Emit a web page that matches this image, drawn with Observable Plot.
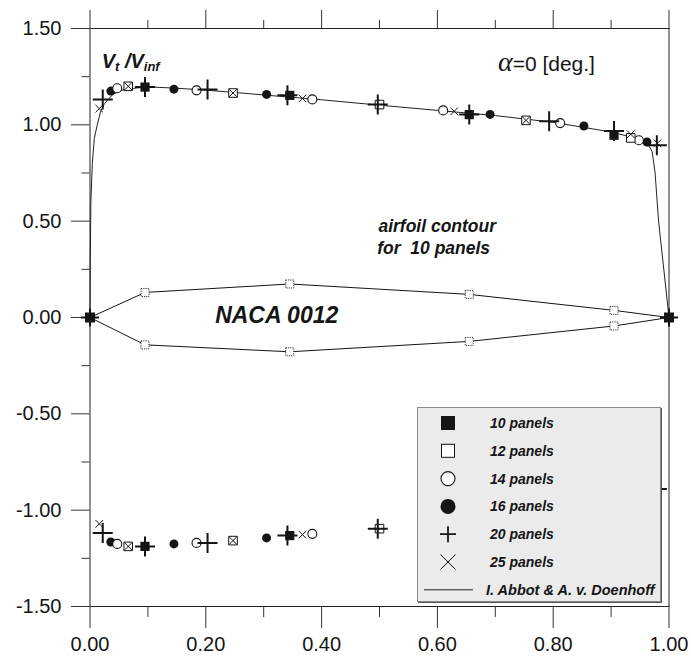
<!DOCTYPE html>
<html><head><meta charset="utf-8">
<script src="https://cdn.jsdelivr.net/npm/d3@7"></script>
<script src="https://cdn.jsdelivr.net/npm/@observablehq/plot@0.6"></script>
<style>
body{margin:0;background:#fff;}
#wrap{position:relative;width:691px;height:657px;}
#legend{position:absolute;left:417px;top:407px;width:244px;height:195px;background:#ebebeb;border:1px solid #8a8a8a;box-sizing:border-box;box-shadow:1px 1px 0 #555;}
</style></head><body><div id="wrap"></div>
<script>
// ---------- data ----------
const seriesNames = ["10 panels","12 panels","14 panels","16 panels","20 panels","25 panels"];
const abbotLabel = "I. Abbot & A. v. Doenhoff";

// 10 panels (filled square)
const p10x  = [0.095, 0.345, 0.655, 0.905];
const p10up = [1.196, 1.153, 1.053, 0.946];
const p10lo = [-1.188, -1.132, -1.05, -0.945];
// 12 panels (open square)
const p12x  = [0.066, 0.247, 0.500, 0.753, 0.934];
const p12up = [1.200, 1.165, 1.105, 1.023, 0.932];
const p12lo = [-1.188, -1.158, -1.096, -1.02, -0.93];
// 14 panels (open circle)
const p14x  = [0.047, 0.184, 0.384, 0.610, 0.812, 0.948];
const p14up = [1.190, 1.179, 1.132, 1.075, 1.009, 0.920];
const p14lo = [-1.175, -1.170, -1.123, -1.075, -1.01, -0.92];
// 16 panels (filled circle)
const p16x  = [0.036, 0.145, 0.305, 0.500, 0.691, 0.853, 0.962];
const p16up = [1.175, 1.185, 1.158, 1.105, 1.054, 0.994, 0.911];
const p16lo = [-1.165, -1.175, -1.144, -1.096, -1.05, -0.99, -0.91];
// 20 panels (plus)
const p20x  = [0.022, 0.095, 0.203, 0.341, 0.497, 0.655, 0.793, 0.905, 0.979];
const p20up = [1.132, 1.196, 1.184, 1.153, 1.105, 1.053, 1.018, 0.968, 0.894];
const p20lo = [-1.118, -1.188, -1.170, -1.132, -1.096, -1.05, -1.02, -0.965, -0.89];
// 25 panels (times)
const p25x  = [0.016, 0.066, 0.247, 0.367, 0.629, 0.753, 0.934, 0.980];
const p25up = [1.084, 1.200, 1.165, 1.137, 1.070, 1.023, 0.951, 0.904];
const p25lo = [-1.071, -1.188, -1.158, -1.127, -1.07, -1.02, -0.95, -0.90];

// stagnation points (leading / trailing edge)
const stagX = [0.0, 1.0];
const stagY = [0.0, 0.0];

// Abbott & von Doenhoff reference curve (upper surface)
const abbX = [0, 0.0005, 0.0015, 0.004, 0.0075, 0.0125, 0.018, 0.025, 0.04, 0.06, 0.1, 0.15, 0.2, 0.25, 0.3, 0.4, 0.5, 0.6, 0.7, 0.8, 0.9, 0.95, 0.962, 0.971, 0.976, 0.982, 0.991, 1.0];
const abbY = [0, 0.3, 0.6, 0.8, 0.93, 1.0, 1.066, 1.11, 1.16, 1.185, 1.197, 1.19, 1.18, 1.168, 1.155, 1.13, 1.102, 1.075, 1.048, 1.013, 0.963, 0.925, 0.91, 0.86, 0.75, 0.5, 0.25, 0];

// airfoil contour for 10 panels
const contX  = [0, 0.095, 0.345, 0.655, 0.905, 1.0];
const contUp = [0, 0.130, 0.174, 0.120, 0.037, 0];
const contLo = [0, -0.142, -0.178, -0.124, -0.044, 0];

// axis ticks
const xMajor = [0, 0.2, 0.4, 0.6, 0.8, 1.0];
const xMinor = [0.1, 0.3, 0.5, 0.7, 0.9];
const yMajor = [-1.5, -1.0, -0.5, 0, 0.5, 1.0, 1.5];
const yMinor = [-1.25, -0.75, -0.25, 0.25, 0.75, 1.25];

// ---------- symbols (r = half size) ----------
const half = s => Math.sqrt(s / Math.PI);
const symSquare = {draw(c, s){ const h = half(s); c.rect(-h, -h, 2*h, 2*h); }};
const symPlus = {draw(c, s){ const h = half(s); c.moveTo(-h,0); c.lineTo(h,0); c.moveTo(0,-h); c.lineTo(0,h); }};
const symTimes = {draw(c, s){ const h = half(s); c.moveTo(-h,-h); c.lineTo(h,h); c.moveTo(-h,h); c.lineTo(h,-h); }};

const pts = (xs, ys) => xs.map((x, i) => ({x, y: ys[i]}));
const both = (xs, up, lo) => pts(xs, up).concat(pts(xs, lo));

const ink = "#151515";
const font = "Arial, 'Liberation Sans', Helvetica, sans-serif";

const plot = Plot.plot({
  width: 691, height: 657,
  marginTop: 28, marginBottom: 51, marginLeft: 89.5, marginRight: 22.5,
  x: {domain: [0, 1]},
  y: {domain: [-1.5, 1.5]},
  style: {fontFamily: font, color: ink, background: "#fff"},
  marks: [
    Plot.frame({stroke: "#222", strokeWidth: 1}),
    Plot.axisX({anchor: "top", ticks: xMajor, tickSize: 19, tickFormat: () => "", label: null, stroke: "#333"}),
    Plot.axisX({anchor: "top", ticks: xMinor, tickSize: 9, tickFormat: () => "", label: null, stroke: "#333"}),
    Plot.axisX({anchor: "bottom", ticks: xMajor, tickSize: 22, tickPadding: 8, tickFormat: d => d.toFixed(2), fontSize: 20, label: null, stroke: "#333"}),
    Plot.axisX({anchor: "bottom", ticks: xMinor, tickSize: 11, tickFormat: () => "", label: null, stroke: "#333"}),
    Plot.axisY({anchor: "left", ticks: yMajor, tickSize: 18.5, tickPadding: 10, tickFormat: d => d.toFixed(2), fontSize: 20, label: null, stroke: "#333"}),
    Plot.axisY({anchor: "left", ticks: yMinor, tickSize: 8, tickFormat: () => "", label: null, stroke: "#333"}),

    // airfoil contour
    Plot.line(pts(contX, contUp), {x: "x", y: "y", stroke: ink, strokeWidth: 1}),
    Plot.line(pts(contX, contLo), {x: "x", y: "y", stroke: ink, strokeWidth: 1}),
    Plot.dot(pts(contX.slice(1, -1), contUp.slice(1, -1)).concat(pts(contX.slice(1, -1), contLo.slice(1, -1))),
      {x: "x", y: "y", symbol: symSquare, r: 4, fill: "#fff", stroke: "#333", strokeWidth: 1, strokeDasharray: "1.2,1"}),

    // reference curve
    Plot.line(pts(abbX, abbY), {x: "x", y: "y", stroke: "#222", strokeWidth: 1, curve: "linear"}),

    // panel-method results
    Plot.dot(both(p16x, p16up, p16lo), {x: "x", y: "y", symbol: "circle", r: 4.5, fill: ink, stroke: "none"}),
    Plot.dot(both(p14x, p14up, p14lo), {x: "x", y: "y", symbol: "circle", r: 4.5, fill: "#fff", stroke: ink, strokeWidth: 1.1}),
    Plot.dot(both(p12x, p12up, p12lo), {x: "x", y: "y", symbol: symSquare, r: 4.3, fill: "#fff", stroke: ink, strokeWidth: 1}),
    Plot.dot(both(p10x, p10up, p10lo), {x: "x", y: "y", symbol: symSquare, r: 4.6, fill: ink, stroke: "none"}),
    Plot.dot(both(p25x, p25up, p25lo), {x: "x", y: "y", symbol: symTimes, r: 3.8, fill: "none", stroke: ink, strokeWidth: 1}),
    Plot.dot(both(p20x, p20up, p20lo), {x: "x", y: "y", symbol: symPlus, r: 10, fill: "none", stroke: ink, strokeWidth: 2}),

    // stagnation points
    Plot.dot(pts(stagX, stagY), {x: "x", y: "y", symbol: symSquare, r: 5, fill: ink, stroke: "none"}),
    Plot.dot(pts(stagX, stagY), {x: "x", y: "y", symbol: symPlus, r: 9, fill: "none", stroke: ink, strokeWidth: 2})
  ]
});

document.getElementById("wrap").appendChild(plot);

// ---------- annotations ----------
const sx = plot.scale("x"), sy = plot.scale("y");
const svg = d3.select(plot);
const ann = svg.append("g").attr("fill", ink).attr("text-anchor", "start");

const vt = ann.append("text").attr("x", sx.apply(0.021)).attr("y", sy.apply(1.292)).attr("text-anchor", "start")
  .attr("font-family", font).attr("font-weight", "bold").attr("font-style", "italic").attr("font-size", 20);
vt.append("tspan").text("V");
vt.append("tspan").attr("font-size", 13).attr("dy", 3).text("t");
vt.append("tspan").attr("dy", -3).text(" /V");
vt.append("tspan").attr("font-size", 13).attr("dy", 3).text("inf");

const al = ann.append("text").attr("x", sx.apply(0.873)).attr("y", sy.apply(1.277))
  .attr("text-anchor", "end").attr("font-family", font).attr("font-size", 21);
al.append("tspan").attr("font-family", "'Liberation Serif', 'DejaVu Serif', serif").attr("font-style", "italic").attr("font-size", 28).text("α");
al.append("tspan").text("=0 [deg.]");

ann.append("text").attr("x", sx.apply(0.499)).attr("y", sy.apply(0.441)).attr("text-anchor", "start")
  .attr("font-family", font).attr("font-weight", "bold").attr("font-style", "italic").attr("font-size", 17.5)
  .text("airfoil contour");
ann.append("text").attr("x", sx.apply(0.497)).attr("y", sy.apply(0.327)).attr("text-anchor", "start")
  .attr("font-family", font).attr("font-weight", "bold").attr("font-style", "italic").attr("font-size", 17.5)
  .attr("xml:space", "preserve").style("white-space", "pre")
  .text("for  10 panels");

ann.append("text").attr("x", sx.apply(0.217)).attr("y", sy.apply(-0.031)).attr("text-anchor", "start")
  .attr("font-family", font).attr("font-weight", "bold").attr("font-style", "italic").attr("font-size", 23)
  .text("NACA 0012");

// ---------- legend ----------
const leg = d3.select("#wrap").append("div").attr("id", "legend");
const ls = leg.append("svg").attr("width", 242).attr("height", 193).style("display", "block");
const rowY = i => 15 + i * 27.8;
const cx = 30;
const items = [
  {name: seriesNames[0], draw: g => g.append("rect").attr("x", cx-7).attr("y", -7).attr("width", 14).attr("height", 14).attr("fill", ink)},
  {name: seriesNames[1], draw: g => g.append("rect").attr("x", cx-6.5).attr("y", -6.5).attr("width", 13).attr("height", 13).attr("fill", "#fff").attr("stroke", ink).attr("stroke-width", 1)},
  {name: seriesNames[2], draw: g => g.append("circle").attr("cx", cx).attr("r", 7).attr("fill", "#fff").attr("stroke", ink).attr("stroke-width", 1.1)},
  {name: seriesNames[3], draw: g => g.append("circle").attr("cx", cx).attr("r", 7.5).attr("fill", ink)},
  {name: seriesNames[4], draw: g => g.append("path").attr("d", `M${cx-8},0H${cx+8}M${cx},-8V8`).attr("stroke", ink).attr("stroke-width", 1.8).attr("fill", "none")},
  {name: seriesNames[5], draw: g => g.append("path").attr("d", `M${cx-7.5},-7.5L${cx+7.5},7.5M${cx-7.5},7.5L${cx+7.5},-7.5`).attr("stroke", ink).attr("stroke-width", 1).attr("fill", "none")}
];
items.forEach((it, i) => {
  const g = ls.append("g").attr("transform", `translate(0,${rowY(i)})`);
  it.draw(g);
  g.append("text").attr("x", 72).attr("y", 5).attr("font-family", font).attr("font-weight", "bold")
    .attr("font-style", "italic").attr("font-size", 14).attr("fill", ink).text(it.name);
});
const g7 = ls.append("g").attr("transform", `translate(0,${rowY(6)})`);
g7.append("line").attr("x1", 6).attr("x2", 55).attr("stroke", "#222").attr("stroke-width", 1);
g7.append("text").attr("x", 68).attr("y", 5).attr("font-family", font).attr("font-weight", "bold")
  .attr("font-style", "italic").attr("font-size", 14.5).attr("fill", ink).text(abbotLabel);
</script>
</body></html>
